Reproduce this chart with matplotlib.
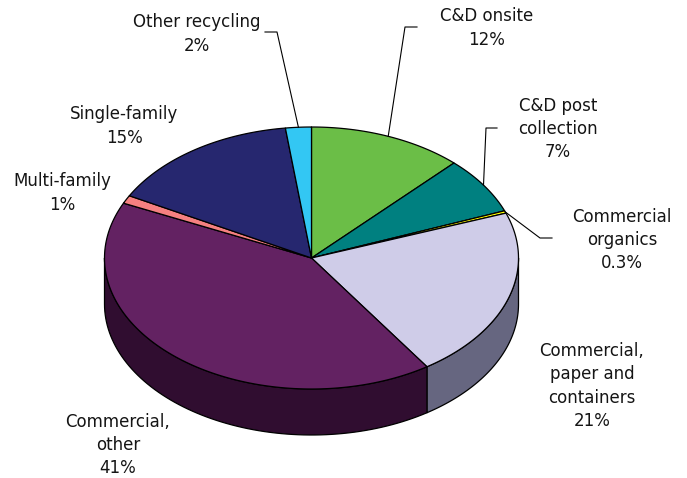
import numpy as np
import matplotlib.pyplot as plt
from matplotlib.patches import Polygon

# recycling share by sector, clockwise from 12 o'clock
labels = ['C&D onsite', 'C&D post\ncollection', 'Commercial\norganics',
          'Commercial,\npaper and\ncontainers', 'Commercial,\nother',
          'Multi-family', 'Single-family', 'Other recycling']
shares = [12, 7, 0.3, 21, 41, 1, 15, 2]
pct_text = ['12%', '7%', '0.3%', '21%', '41%', '1%', '15%', '2%']

top_colors = ['#6bbe47', '#008080', '#ffff00', '#cfcce8',
              '#632262', '#f58080', '#26276f', '#33c7f3']
side_colors = ['#365f24', '#004040', '#808000', '#666680',
               '#300d30', '#7a4040', '#131338', '#1a6379']

# label centres (pixel coords) and leader lines: elbow start, elbow end
label_pos = [(487, 28), (558, 129), (622, 240), (592, 386),
             (118, 445), (62, 193), (124, 126), (197, 34)]
leaders = {0: ((417, 27), (405, 27)),
           1: ((497, 128), (486, 128)),
           2: ((552, 238), (540, 238)),
           7: ((265, 32), (277, 32))}

cx, cy = 311.5, 258.0
rx, ry = 207.0, 131.0
depth = 46.0


def rim(theta, drop=0.0):
    t = np.radians(theta)
    return cx + rx * np.sin(t), cy - ry * np.cos(t) + drop


fig = plt.figure(figsize=(6.87, 4.78), dpi=100)
ax = fig.add_axes([0, 0, 1, 1])
ax.set_xlim(0, 687)
ax.set_ylim(478, 0)
ax.axis('off')

vals = np.array(shares, dtype=float)
edges = np.concatenate([[0], np.cumsum(vals) / vals.sum() * 360])

# outer wall, only the front half (90..270 deg) shows
for i in range(len(vals)):
    s, e = max(edges[i], 90), min(edges[i + 1], 270)
    if e <= s:
        continue
    th = np.linspace(s, e, 80)
    xt, yt = rim(th)
    xb, yb = rim(th[::-1], depth)
    pts = np.column_stack([np.r_[xt, xb], np.r_[yt, yb]])
    ax.add_patch(Polygon(pts, closed=True, fc=side_colors[i],
                         ec='black', lw=0.9, joinstyle='round'))

# top face
for i in range(len(vals)):
    th = np.linspace(edges[i], edges[i + 1], 120)
    x, y = rim(th)
    pts = np.column_stack([np.r_[cx, x], np.r_[cy, y]])
    ax.add_patch(Polygon(pts, closed=True, fc=top_colors[i],
                         ec='black', lw=0.9, joinstyle='round'))

# labels and leader lines
for i, (lx, ly) in enumerate(label_pos):
    ax.text(lx, ly, labels[i] + '\n' + pct_text[i], ha='center', va='center',
            fontsize=12, color='#151515', linespacing=1.38,
            family='DejaVu Sans')
    if i in leaders:
        p0, p1 = leaders[i]
        mid = (edges[i] + edges[i + 1]) / 2
        ex, ey = rim(mid)
        ax.plot([p0[0], p1[0], ex], [p0[1], p1[1], ey], color='black', lw=0.8)

fig.savefig('out.png', dpi=100)
